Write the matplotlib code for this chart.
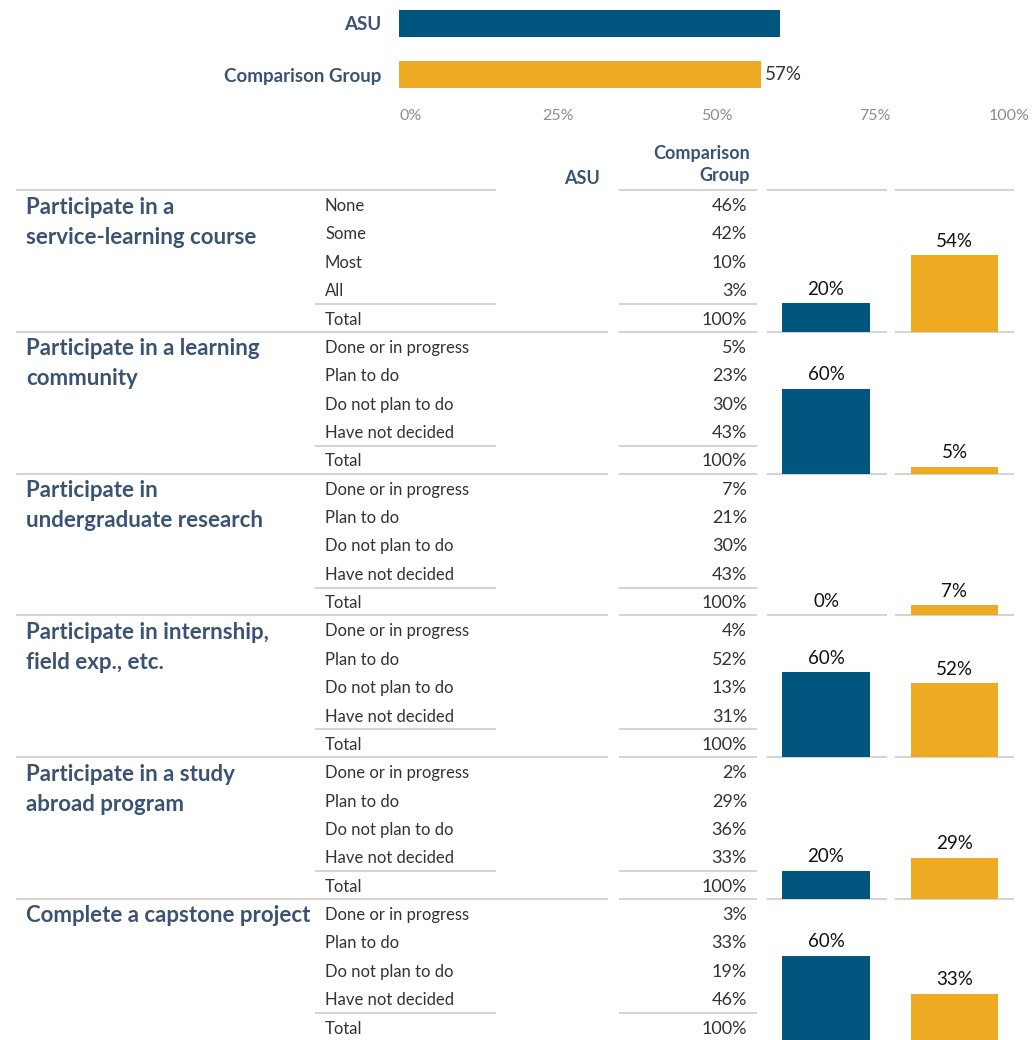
import matplotlib
matplotlib.use("Agg")
import matplotlib.pyplot as plt
import matplotlib.transforms as mtransforms

# ---------------- data ----------------
overall_groups = ["ASU", "Comparison Group"]
overall_values = [60, 57]
overall_ticks = [0, 25, 50, 75, 100]

section_titles = [
    ["Participate in a", "service-learning course"],
    ["Participate in a learning", "community"],
    ["Participate in", "undergraduate research"],
    ["Participate in internship,", "field exp., etc."],
    ["Participate in a study", "abroad program"],
    ["Complete a capstone project"],
]
row_labels = [
    ["None", "Some", "Most", "All", "Total"],
    ["Done or in progress", "Plan to do", "Do not plan to do", "Have not decided", "Total"],
    ["Done or in progress", "Plan to do", "Do not plan to do", "Have not decided", "Total"],
    ["Done or in progress", "Plan to do", "Do not plan to do", "Have not decided", "Total"],
    ["Done or in progress", "Plan to do", "Do not plan to do", "Have not decided", "Total"],
    ["Done or in progress", "Plan to do", "Do not plan to do", "Have not decided", "Total"],
]
comparison_table = [
    [46, 42, 10, 3, 100],
    [5, 23, 30, 43, 100],
    [7, 21, 30, 43, 100],
    [4, 52, 13, 31, 100],
    [2, 29, 36, 33, 100],
    [3, 33, 19, 46, 100],
]
asu_bars = [20, 60, 0, 60, 20, 60]
comparison_bars = [54, 5, 7, 52, 29, 33]

# ---------------- style ----------------
ASU_BLUE = "#00567F"
GOLD = "#EEAA22"
TITLE_C = "#3B5373"
TEXT_C = "#333333"
RULE_C = "#D4D4D4"
FONT = "Lato"

W, H = 1032, 1040
fig = plt.figure(figsize=(W / 100, H / 100), dpi=100)

def fx(px):
    return px / W

def fy(py):
    return 1 - py / H

# overlay axes in pixel space for table text and rules
ov = fig.add_axes([0, 0, 1, 1])
ov.set_xlim(0, W)
ov.set_ylim(H, 0)
ov.axis("off")

# ---------------- top overall bar chart ----------------
ax0_left, ax0_right = 399, 1034
ax0 = fig.add_axes([fx(ax0_left), fy(98), fx(ax0_right - ax0_left), 98 / H])
ypos = list(range(len(overall_groups)))
ax0.barh(ypos, overall_values, height=0.53, color=[ASU_BLUE, GOLD])
ax0.set_xlim(0, 100)
ax0.set_ylim(1.46, -0.46)
ax0.set_yticks(ypos)
ax0.set_yticklabels(overall_groups, fontsize=13.5, fontweight="bold", color=TITLE_C, family=FONT)
ax0.set_xticks(overall_ticks)
ax0.set_xticklabels([f"{t}%" for t in overall_ticks], fontsize=11.5, color="#8C8C8C", family=FONT)
ax0.tick_params(axis="both", length=0)
ax0.tick_params(axis="y", pad=13)
ax0.tick_params(axis="x", pad=8)
xl = ax0.get_xticklabels()
xl[0].set_horizontalalignment("left")
xl[-1].set_horizontalalignment("right")
xl[-1].set_transform(xl[-1].get_transform() +
                     mtransforms.ScaledTranslation(-4 / 100, 0, fig.dpi_scale_trans))
for s in ax0.spines.values():
    s.set_visible(False)
ax0.patch.set_alpha(0)
ax0.annotate(f"{overall_values[1]}%", xy=(overall_values[1], 1), xytext=(3, 0),
             textcoords="offset points", va="center", ha="left",
             fontsize=13.5, color=TEXT_C, family=FONT)

# ---------------- table ----------------
header_line = 190
sec_h = 141.8
row_first = 16
row_step = 28.4

cols_rules = [(620, 756), (768, 886), (896, 1013)]

# header texts
hdr_kw = dict(ha="right", va="center", fontsize=13, fontweight="bold", color=TITLE_C, family=FONT)
ov.text(600, 178, "ASU", **hdr_kw)
ov.text(750, 153, "Comparison", **hdr_kw)
ov.text(750, 176, "Group", **hdr_kw)

# header rules
ov.plot([17, 495], [header_line] * 2, color=RULE_C, lw=1.5)
for a, b in cols_rules:
    ov.plot([a, b], [header_line] * 2, color=RULE_C, lw=1.5)

for i in range(len(section_titles)):
    top = header_line + i * sec_h
    bot = top + sec_h
    # titles
    for j, line in enumerate(section_titles[i]):
        ov.text(26, top + 17 + j * 30, line, ha="left", va="center", fontsize=16,
                fontweight="bold", color=TITLE_C, family=FONT)
    # rows
    for r, (lab, val) in enumerate(zip(row_labels[i], comparison_table[i])):
        yy = top + row_first + r * row_step
        ov.text(325, yy, lab, ha="left", va="center", fontsize=12, color=TEXT_C, family=FONT)
        ov.text(747, yy, f"{val}%", ha="right", va="center", fontsize=13, color=TEXT_C,
                family=FONT)
    # rule above total
    ytot = top + 114
    ov.plot([316, 495], [ytot] * 2, color=RULE_C, lw=1.5)
    ov.plot([620, 756], [ytot] * 2, color=RULE_C, lw=1.5)
    # bottom rules
    ov.plot([17, 607], [bot] * 2, color=RULE_C, lw=1.5)
    for a, b in cols_rules:
        ov.plot([a, b], [bot] * 2, color=RULE_C, lw=1.5)

    # bars
    for (cx0, cx1), val, colr, bw in [((768, 884), asu_bars[i], ASU_BLUE, 0.76),
                                      ((896, 1013), comparison_bars[i], GOLD, 0.745)]:
        bax = fig.add_axes([fx(cx0), fy(bot), fx(cx1 - cx0), sec_h / H])
        bax.bar([0], [val], width=bw, color=colr)
        bax.set_xlim(-0.5, 0.5)
        bax.set_ylim(0, 100)
        bax.axis("off")
        bax.annotate(f"{val}%", xy=(0, val), xytext=(0, 4), textcoords="offset points",
                     ha="center", va="bottom", fontsize=13.5, color="#111111", family=FONT,
                     annotation_clip=False)

fig.savefig("out.png", dpi=100)
